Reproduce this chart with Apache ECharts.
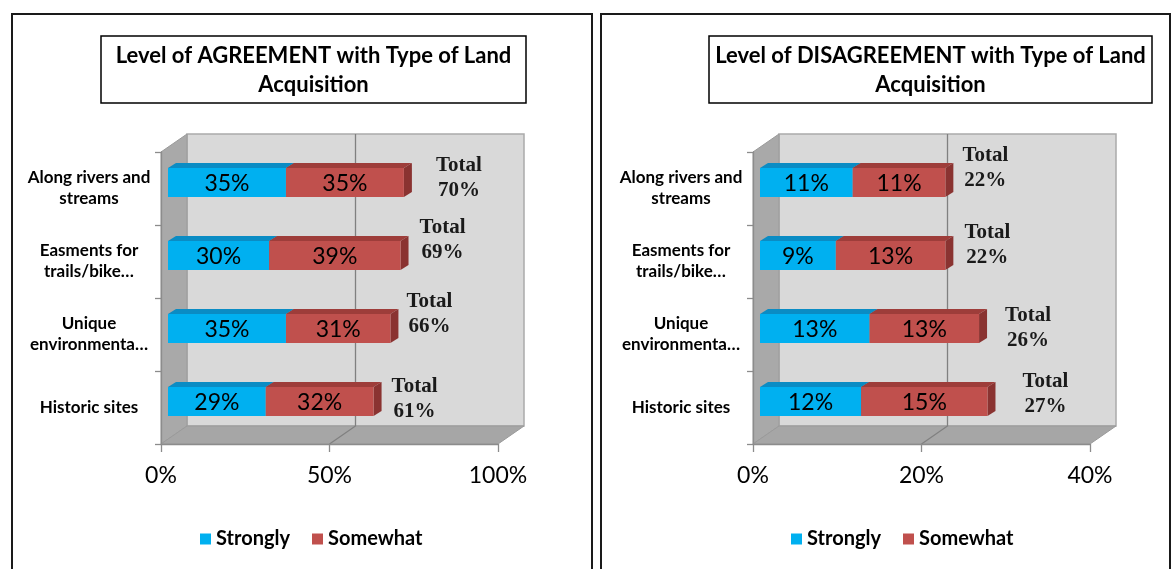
<!DOCTYPE html>
<html>
<head>
<meta charset="utf-8">
<script src="https://cdn.jsdelivr.net/npm/echarts@6/dist/echarts.min.js"></script>
<style>
  html, body { margin: 0; padding: 0; background: #ffffff; }
  #chart { width: 1175px; height: 569px; }
</style>
</head>
<body>
<div id="chart"></div>
<script>
// ---- data ----
const categories = ['Along rivers and\nstreams', 'Easments for\ntrails/bike…', 'Unique\nenvironmenta…', 'Historic sites'];
const seriesNames = ['Strongly', 'Somewhat'];

const agreeStrongly = [35, 30, 35, 29];
const agreeSomewhat = [35, 39, 31, 32];
const agreeTotal = [70, 69, 66, 61];

const disagreeStrongly = [11, 9, 13, 12];
const disagreeSomewhat = [11, 13, 13, 15];
const disagreeTotal = [22, 22, 26, 27];

const agreeTicks = [0, 50, 100];
const disagreeTicks = [0, 20, 40];

const panelTitles = [
  'Level of AGREEMENT with Type of Land\nAcquisition',
  'Level of DISAGREEMENT with Type of Land\nAcquisition'
];

// hand-placed nudges for the "Total" callouts: [px right of bar end, px from bar centre]
const agreeTotalNudge = [[47, -4], [34, -15], [31, -14], [33, -2]];
const disagreeTotalNudge = [[32, -14], [34, -10], [41, 0], [50, -7]];

// ---- styling ----
const COLORS = {
  Strongly: { front: '#00b0f0', top: '#0a8cc4', side: '#0679a8' },
  Somewhat: { front: '#c0504d', top: '#9e3d3a', side: '#8a3331' }
};
const WALL = [26, -18];      // depth of the 3-D box
const BAR_SHIFT = [7, -6];   // bars sit a little way into the box
const BAR_DEPTH = [8, -5];   // thickness of each bar
const SANS = 'Lato, "Open Sans", sans-serif';

// ---- renderers ----
function frameItem(ticks) {
  return function (params, api) {
    const cs = params.coordSys;
    const x0 = cs.x, y0 = cs.y, x1 = cs.x + cs.width, y1 = cs.y + cs.height;
    const dx = WALL[0], dy = WALL[1];
    const kids = [
      { type: 'polygon', shape: { points: [[x0 + dx, y0 + dy], [x1 + dx, y0 + dy], [x1 + dx, y1 + dy], [x0 + dx, y1 + dy]] },
        style: { fill: '#d9d9d9', stroke: '#ababab', lineWidth: 1.5 } },
      { type: 'polygon', shape: { points: [[x0, y0], [x0 + dx, y0 + dy], [x0 + dx, y1 + dy], [x0, y1]] },
        style: { fill: '#a9a9a9', stroke: '#9a9a9a', lineWidth: 1 } },
      { type: 'polygon', shape: { points: [[x0, y1], [x0 + dx, y1 + dy], [x1 + dx, y1 + dy], [x1, y1]] },
        style: { fill: '#a6a6a6', stroke: '#9a9a9a', lineWidth: 1 } }
    ];
    ticks.slice(1, -1).forEach(function (t) {
      const px = api.coord([t, 0])[0];
      kids.push({ type: 'polyline', shape: { points: [[px + dx, y0 + dy], [px + dx, y1 + dy], [px, y1]] },
        style: { stroke: '#808080', lineWidth: 1.3, fill: null } });
    });
    return { type: 'group', children: kids };
  };
}

function barItem(c) {
  return function (params, api) {
    const cat = api.value(0);
    const a = api.coord([api.value(1), cat]);
    const b = api.coord([api.value(2), cat]);
    const h = api.size([0, 1])[1] * 0.40;
    const left = a[0] + BAR_SHIFT[0], right = b[0] + BAR_SHIFT[0];
    const top = a[1] + BAR_SHIFT[1] - h / 2, bottom = top + h;
    const ddx = BAR_DEPTH[0], ddy = BAR_DEPTH[1];
    return { type: 'group', children: [
      { type: 'polygon', shape: { points: [[left, top], [right, top], [right + ddx, top + ddy], [left + ddx, top + ddy]] },
        style: { fill: c.top } },
      { type: 'polygon', shape: { points: [[right, top], [right + ddx, top + ddy], [right + ddx, bottom + ddy], [right, bottom]] },
        style: { fill: c.side } },
      { type: 'rect', shape: { x: left, y: top, width: right - left, height: h }, style: { fill: c.front } },
      { type: 'text', style: { text: api.value(3) + '%', x: (left + right) / 2, y: top + h / 2 + 1,
        align: 'center', verticalAlign: 'middle', font: '23px ' + SANS, fill: '#000' } }
    ] };
  };
}

function totalItem(nudge) {
  return function (params, api) {
    const i = api.value(0);
    const p = api.coord([api.value(1), i]);
    return { type: 'text', style: {
      text: 'Total\n' + api.value(1) + '%',
      x: p[0] + BAR_SHIFT[0] + BAR_DEPTH[0] + nudge[i][0],
      y: p[1] + BAR_SHIFT[1] + nudge[i][1],
      align: 'center', verticalAlign: 'middle', lineHeight: 25,
      font: 'bold 21px "Liberation Serif", serif', fill: '#1a1a1a' } };
  };
}

function stackRows(first, second) {
  return {
    first: first.map(function (v, i) { return [i, 0, v, v]; }),
    second: second.map(function (v, i) { return [i, first[i], first[i] + v, v]; })
  };
}

// ---- build one panel ----
function panel(idx, strongly, somewhat, totals, ticks, nudge) {
  const rows = stackRows(strongly, somewhat);
  const enc = { x: [1, 2], y: 0 };
  return [
    { type: 'custom', name: 'frame', xAxisIndex: idx, yAxisIndex: idx, data: [[0, 0]],
      encode: { x: 1, y: 0 }, renderItem: frameItem(ticks), silent: true, z: 1 },
    { type: 'custom', name: seriesNames[0], xAxisIndex: idx, yAxisIndex: idx, data: rows.first,
      encode: enc, renderItem: barItem(COLORS.Strongly), itemStyle: { color: COLORS.Strongly.front }, z: 2 },
    { type: 'custom', name: seriesNames[1], xAxisIndex: idx, yAxisIndex: idx, data: rows.second,
      encode: enc, renderItem: barItem(COLORS.Somewhat), itemStyle: { color: COLORS.Somewhat.front }, z: 2 },
    { type: 'custom', name: 'total', xAxisIndex: idx, yAxisIndex: idx,
      data: totals.map(function (v, i) { return [i, v]; }),
      encode: { x: 1, y: 0 }, renderItem: totalItem(nudge), silent: true, z: 3 }
  ];
}

function xAxisFor(idx, ticks) {
  return {
    type: 'value', gridIndex: idx, min: ticks[0], max: ticks[ticks.length - 1], interval: ticks[1] - ticks[0],
    z: 4,
    axisLine: { show: true, lineStyle: { color: '#8c8c8c', width: 1.3 } },
    axisTick: { show: true, length: 8, lineStyle: { color: '#8c8c8c', width: 1.3 } },
    splitLine: { show: false },
    axisLabel: { formatter: '{value}%', color: '#000', fontFamily: SANS, fontSize: 23, margin: 20 }
  };
}

function yAxisFor(idx) {
  return {
    type: 'category', gridIndex: idx, data: categories, inverse: true, z: 4,
    axisLine: { show: true, lineStyle: { color: '#8c8c8c', width: 1.3 } },
    axisTick: { show: true, length: 6, lineStyle: { color: '#8c8c8c', width: 1.3 } },
    axisLabel: { color: '#000', fontFamily: SANS, fontWeight: 'bold', fontSize: 17, lineHeight: 21,
      align: 'center', margin: 72 }
  };
}

function legendFor(left) {
  return {
    left: left, top: 524, data: seriesNames, icon: 'rect', itemWidth: 11, itemHeight: 11, itemGap: 22,
    textStyle: { color: '#000', fontFamily: SANS, fontWeight: 'bold', fontSize: 20 }
  };
}

function titleBox(x, y, w, h, text) {
  return { type: 'group', children: [
    { type: 'rect', shape: { x: x, y: y, width: w, height: h }, style: { fill: '#fff', stroke: '#000', lineWidth: 1.5 } },
    { type: 'text', style: { text: text, x: x + w / 2, y: y + h / 2 + 1, align: 'center', verticalAlign: 'middle',
      lineHeight: 29, font: 'bold 22px ' + SANS, fill: '#000' } }
  ] };
}

const chart = echarts.init(document.getElementById('chart'), null, { renderer: 'canvas' });
chart.setOption({
  animation: false,
  backgroundColor: '#ffffff',
  grid: [
    { left: 161, top: 152, width: 337, height: 292 },
    { left: 753, top: 152, width: 337, height: 292 }
  ],
  xAxis: [xAxisFor(0, agreeTicks), xAxisFor(1, disagreeTicks)],
  yAxis: [yAxisFor(0), yAxisFor(1)],
  legend: [legendFor(195), legendFor(786)],
  graphic: [
    { type: 'rect', shape: { x: 12, y: 14, width: 580, height: 570 }, style: { fill: null, stroke: '#1a1a1a', lineWidth: 2 }, z: -10 },
    { type: 'rect', shape: { x: 601, y: 14, width: 569, height: 570 }, style: { fill: null, stroke: '#1a1a1a', lineWidth: 2 }, z: -10 },
    titleBox(101, 36, 425, 67, panelTitles[0]),
    titleBox(709, 36, 443, 67, panelTitles[1])
  ],
  series: [].concat(
    panel(0, agreeStrongly, agreeSomewhat, agreeTotal, agreeTicks, agreeTotalNudge),
    panel(1, disagreeStrongly, disagreeSomewhat, disagreeTotal, disagreeTicks, disagreeTotalNudge)
  )
});
</script>
</body>
</html>
